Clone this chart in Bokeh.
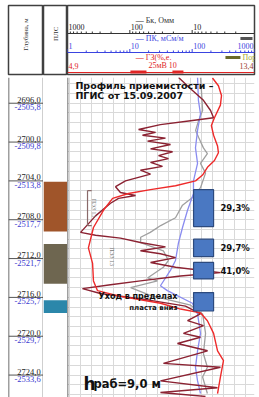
import numpy as np
from bokeh.plotting import figure
from bokeh.layouts import row, column
from bokeh.models import Range1d, LogScale, Span, SingleIntervalTicker, Grid
from bokeh.embed import file_html
from bokeh.resources import INLINE
from bokeh.core.properties import value

# ---------------- data ----------------
depth_ticks = [2696, 2700, 2704, 2708, 2712, 2716, 2720, 2724]
depth_labels = ["2696,0", "2700,0", "2704,0", "2708,0", "2712,0", "2716,0", "2720,0", "2724,0"]
abs_labels = ["-2505,8", "-2509,8", "-2513,8", "-2517,7", "-2521,7", "-2525,7", "-2529,7", "-2533,6"]

litho_top = [2704.1, 2710.5, 2716.3]
litho_bot = [2709.2, 2714.6, 2717.6]
litho_colors = ["#A0552A", "#6E6650", "#2B87AA"]

prof_top = [2704.9, 2710.0, 2712.4, 2715.5]
prof_bot = [2708.7, 2711.8, 2714.1, 2717.4]
prof_labels = ["29,3%", "29,7%", "41,0%", ""]

bk_scale = [1000, 100, 10, 1]
bk_labels = ["1000", "100", "10", "1"]
pk_scale = [1, 10, 100, 1000]
pk_labels = ["1", "10", "100", "1000"]
gz_scale = [4.9, 13.4]
gz_labels = ["4,9", "13,4"]

# ГЗ (red), linear 4.9 .. 13.4
red_depth = [2693.4, 2694.2, 2695.2, 2696.2, 2697.5, 2698.3, 2699.3, 2700.4, 2701.1, 2701.9,
             2702.6, 2703.4, 2704.0, 2704.5, 2704.9, 2705.3, 2705.8, 2707.0, 2708.8, 2710.9,
             2712.5, 2714.3, 2715.3, 2715.9, 2716.6, 2717.2, 2717.6, 2718.4, 2719.7, 2721.5,
             2722.5, 2724.2, 2725.9]
red_gz = [11.49, 11.76, 11.90, 11.85, 11.58, 11.44, 11.54, 11.72, 11.76, 11.58,
          11.26, 11.04, 10.72, 9.81, 8.67, 7.67, 6.95, 6.54, 6.08, 5.85,
          6.04, 6.08, 6.26, 7.31, 9.13, 10.04, 10.95, 11.26, 11.54, 11.72,
          11.99, 11.85, 11.72]

# ПС (maroon), mV
ps_depth = [2693.35, 2694.5, 2695.7, 2696.75, 2697.5, 2697.8, 2698.2, 2698.7, 2699.0, 2699.3,
            2699.6, 2699.9, 2700.25, 2700.7, 2701.0, 2701.4, 2701.7, 2702.1, 2702.5, 2702.9,
            2703.3, 2704.0, 2704.6, 2705.2, 2705.5, 2705.8, 2706.3, 2707.6, 2709.3, 2709.6,
            2709.9, 2710.35, 2710.8, 2711.2, 2711.5, 2711.9, 2712.4, 2712.9, 2713.45, 2713.8,
            2714.3, 2714.7, 2715.1, 2715.6, 2716.3, 2716.9, 2717.7, 2718.4, 2718.9, 2719.7,
            2720.1, 2720.75, 2721.5, 2722.8, 2723.2, 2724.6, 2725.3, 2725.8, 2726.2]
ps_mv = [-40.6, -34.2, -27.3, -23.5, -21.9, -34.2, -50.3, -62.0, -52.9, -59.9,
         -47.6, -57.2, -44.9, -55.6, -43.8, -51.3, -46.0, -55.6, -49.2, -61.0,
         -55.6, -69.0, -74.3, -71.7, -63.6, -72.7, -77.0, -85.0, -93.0, -85.0,
         -71.7, -61.0, -47.6, -61.0, -50.3, -42.2, -55.6, -42.2, -18.2, -39.6,
         -61.0, -77.0, -92.0, -82.4, -55.6, -36.9, -28.9, -35.8, -27.3, -38.0,
         -28.9, -41.2, -25.1, -48.7, -18.2, -50.3, -19.8, -50.3, -26.2]

# Бк (grey), Ohm*m, log
bk_depth = [2693.35, 2694.7, 2696.75, 2697.8, 2698.8, 2699.5, 2700.6, 2701.2, 2702.2, 2703.2,
            2704.7, 2705.7, 2706.5, 2707.8, 2708.6, 2709.3, 2709.8, 2710.35, 2711.2, 2712.2,
            2712.9, 2714.0, 2714.3, 2715.0, 2715.8, 2716.8, 2717.7, 2719.7, 2721.8, 2723.2,
            2724.2, 2725.9]
bk_ohm = [7.35, 7.1, 6.8, 7.9, 8.8, 7.9, 6.6, 5.7, 7.35, 6.1,
          7.35, 9.9, 14.3, 18.5, 32.0, 47.0, 67.0, 67.0, 29.0, 24.0,
          29.0, 52.0, 36.0, 97.0, 47.0, 10.6, 6.8, 6.1, 6.6, 5.7,
          6.8, 5.7]

# ПК (blue), mS/m, log
pk_depth = [2693.35, 2695.7, 2697.1, 2698.8, 2700.6, 2702.2, 2704.0, 2705.3, 2707.05, 2708.8,
            2710.45, 2712.2, 2713.2, 2714.8, 2715.3, 2716.6, 2717.7, 2719.7, 2721.5, 2723.2,
            2724.6, 2725.9]
pk_msm = [122, 126, 136, 122, 113, 122, 105, 105, 84, 70,
          60, 54, 45, 31, 40, 101, 122, 136, 122, 113,
          122, 136]

# ---------------- layout ----------------
TOP, BOT = 2693.35, 2726.31
serif = value("Liberation Serif")
sans = value("DejaVu Sans")
LINE = "#404040"


def make(w, h, xr, yr, **kw):
    p = figure(width=w, height=h, x_range=xr, y_range=yr, output_backend="svg",
               toolbar_location=None, x_axis_location=None, y_axis_location=None,
               min_border=0, **kw)
    p.xgrid.visible = False
    p.ygrid.visible = False
    p.outline_line_color = None
    p.border_fill_color = "white"
    p.background_fill_color = "white"
    return p


def boxed(p):
    p.outline_line_color = LINE
    p.outline_line_width = 1.5
    return p


HF = "8px"
# ---- header ----
h1 = boxed(make(43, 77, Range1d(0, 1), Range1d(1, 0), min_border_left=8, min_border_top=5, min_border_bottom=3))
h1.text(x=[0.5], y=[0.42], text=["Глубина, м"], angle=np.pi / 2, text_align="center",
        text_baseline="middle", text_font=serif, text_font_size="7px", text_color="#333333")

h2 = boxed(make(24, 77, Range1d(0, 1), Range1d(1, 0), min_border_top=5, min_border_bottom=3))
h2.text(x=[0.5], y=[0.41], text=["ПЛС"], angle=np.pi / 2, text_align="center",
        text_baseline="middle", text_font=serif, text_font_size="7px", text_color="#333333")

h3 = boxed(make(192, 77, Range1d(gz_scale[0], gz_scale[1]), Range1d(69, 0),
                min_border_right=5, min_border_top=5, min_border_bottom=3))
h3.extra_x_ranges = {"bk": Range1d(bk_scale[0], bk_scale[-1]), "pk": Range1d(pk_scale[0], pk_scale[-1])}
h3.extra_x_scales = {"bk": LogScale(), "pk": LogScale()}

minor = [m * 10 ** k for k in range(3) for m in range(2, 10)]
decades = [1, 10, 100, 1000]
# row 1 : Бк
h3.segment(x0=[bk_scale[0]], x1=[bk_scale[-1]], y0=[28], y1=[28], x_range_name="bk", line_color="#333333")
h3.segment(x0=minor, x1=minor, y0=28, y1=26, x_range_name="bk", line_color="#333333")
h3.segment(x0=decades, x1=decades, y0=28, y1=24.5, x_range_name="bk", line_color="#333333")
h3.text(x=bk_scale, y=21.5, text=bk_labels, x_range_name="bk", x_offset=1, text_align="left",
        text_baseline="middle", text_font=serif, text_font_size=HF, text_color="#222222")
h3.text(x=[8.0], y=[15], text=["— Бк, Омм"], text_align="left", text_baseline="middle",
        text_font=serif, text_font_size=HF, text_color="#333333")
# row 2 : ПК
BLUE_H = "#3a44e0"
h3.segment(x0=[pk_scale[0]], x1=[pk_scale[-1]], y0=[47], y1=[47], x_range_name="pk", line_color=BLUE_H)
h3.segment(x0=minor, x1=minor, y0=47, y1=45, x_range_name="pk", line_color=BLUE_H)
h3.segment(x0=decades, x1=decades, y0=47, y1=43.5, x_range_name="pk", line_color=BLUE_H)
h3.text(x=pk_scale[:3], y=40.5, text=pk_labels[:3], x_range_name="pk", x_offset=1, text_align="left",
        text_baseline="middle", text_font=serif, text_font_size=HF, text_color=BLUE_H)
h3.text(x=pk_scale[3:], y=40.5, text=pk_labels[3:], x_range_name="pk", x_offset=-1, text_align="right",
        text_baseline="middle", text_font=serif, text_font_size=HF, text_color=BLUE_H)
h3.text(x=[8.0], y=[33], text=["— ПК, мСм/м"], text_align="left", text_baseline="middle",
        text_font=serif, text_font_size=HF, text_color=BLUE_H)
h3.segment(x0=[12.76], x1=[13.31], y0=[33], y1=[33], line_color="#555555", line_width=3)
# row 3 : ГЗ
RED_H = "#e02424"
h3.segment(x0=[gz_scale[0]], x1=[gz_scale[1]], y0=[67], y1=[67], line_color=RED_H)
h3.segment(x0=[7.76, 9.67], x1=[8.49, 10.17], y0=66.5, y1=66.5, line_color=RED_H, line_width=3)
h3.text(x=[gz_scale[0]], y=60, text=[gz_labels[0]], x_offset=1, text_align="left", text_baseline="middle",
        text_font=serif, text_font_size=HF, text_color=RED_H)
h3.text(x=[gz_scale[1]], y=60, text=[gz_labels[1]], x_offset=-1, text_align="right", text_baseline="middle",
        text_font=serif, text_font_size=HF, text_color="#9a3a2a")
h3.text(x=[8.0], y=[52], text=["— ГЗ(%,е."], text_align="left", text_baseline="middle",
        text_font=serif, text_font_size=HF, text_color=RED_H)
h3.text(x=[8.58], y=[60], text=["25мВ 10"], text_align="left", text_baseline="middle",
        text_font=serif, text_font_size=HF, text_color=RED_H)
h3.segment(x0=[12.08], x1=[12.76], y0=[52], y1=[52], line_color="#6b6b2a", line_width=3)
h3.text(x=[12.85], y=[52], text=["Пор"], text_align="left", text_baseline="middle",
        text_font=serif, text_font_size=HF, text_color="#a8a832")

# ---- body ----
b1 = make(43, 320, Range1d(0, 1), Range1d(BOT, TOP), min_border_left=8)
b1.add_layout(Span(location=0, dimension="height", line_color=LINE, line_width=1.5))
b1.add_layout(Span(location=1, dimension="height", line_color=LINE, line_width=1.5))
b1.segment(x0=0, x1=1, y0=depth_ticks, y1=depth_ticks, line_color="#555555", line_width=1)
b1.text(x=0.92, y=depth_ticks, text=depth_labels, y_offset=-0.5, text_align="right", text_baseline="bottom",
        text_font=serif, text_font_size="8.5px", text_color="#222222")
b1.text(x=0.92, y=depth_ticks, text=abs_labels, y_offset=1, text_align="right", text_baseline="top",
        text_font=serif, text_font_size="8.5px", text_color="#3a3ad0")

b2 = make(24, 320, Range1d(0, 1), Range1d(BOT, TOP))
b2.quad(left=0, right=1, top=litho_top, bottom=litho_bot, fill_color=litho_colors, line_color=None)

b3 = make(192, 320, Range1d(gz_scale[0], gz_scale[1]), Range1d(BOT, TOP), min_border_right=5)
b3.extra_x_ranges = {"bk": Range1d(bk_scale[0], bk_scale[-1]), "pk": Range1d(pk_scale[0], pk_scale[-1]),
                     "ps": Range1d(-100, 0)}
b3.extra_x_scales = {"bk": LogScale(), "pk": LogScale()}
GRID = "#d9d9d9"
b3.add_layout(Grid(dimension=0, ticker=SingleIntervalTicker(interval=0.5), grid_line_color=GRID))
b3.add_layout(Grid(dimension=1, ticker=SingleIntervalTicker(interval=1), grid_line_color=GRID))
b3.add_layout(Span(location=gz_scale[0], dimension="height", line_color=LINE, line_width=1.5))

b3.line(x=bk_ohm, y=bk_depth, x_range_name="bk", line_color="#a0a0a0", line_width=1.3)
b3.line(x=pk_msm, y=pk_depth, x_range_name="pk", line_color="#8a8cf0", line_width=1.3)
b3.line(x=ps_mv, y=ps_depth, x_range_name="ps", line_color="#8b2232", line_width=1.4)
b3.line(x=red_gz, y=red_depth, line_color="#ee2a2a", line_width=1.4)

# bracket + small vertical notes
b3.segment(x0=[5.81, 5.81, 5.81], x1=[5.81, 6.0, 6.0], y0=[2705.0, 2705.0, 2708.6], y1=[2708.6, 2705.0, 2708.6],
           line_color="#8a6a6a", line_width=1.2)
b3.text(x=[6.1, 6.9], y=[2706.8, 2711.8], text=["ПЭЗ 13", "ПЭЗ 13"], angle=-np.pi / 2, text_align="center",
        text_baseline="middle", text_font=serif, text_font_size="6px", text_color="#777777")

# profile bars
b3.quad(left=10.63, right=11.54, top=prof_top, bottom=prof_bot, fill_color="#4a78c2",
        line_color="#2c4a7e", line_width=1.2)
mid = [(a + b) / 2 for a, b in zip(prof_top, prof_bot)]
b3.text(x=11.85, y=mid, text=prof_labels, text_align="left", text_baseline="middle",
        text_font=sans, text_font_size="8.5px", text_font_style="bold", text_color="#111111")

b3.text(x=[5.26, 5.26], y=[2694.18, 2695.21], text=["Профиль приемистости –", "ПГИС от 15.09.2007"],
        text_align="left", text_baseline="middle", text_font=sans, text_font_size="9.5px",
        text_font_style="bold", text_color="#111111")
b3.text(x=[9.9], y=[2715.9], text=["Уход в пределах"], text_align="right", text_baseline="middle",
        text_font=sans, text_font_size="8px", text_font_style="bold", text_color="#111111")
b3.text(x=[9.9], y=[2717.05], text=["пласта вниз"], text_align="right", text_baseline="middle",
        text_font=sans, text_font_size="7px", text_font_style="bold", text_color="#111111")
b3.text(x=[5.63], y=[2724.9], text=["h"], text_align="left", text_baseline="alphabetic",
        text_font=sans, text_font_size="17px", text_font_style="bold", text_color="#111111")
b3.text(x=[6.08], y=[2724.9], text=["раб=9,0 м"], text_align="left", text_baseline="alphabetic",
        text_font=sans, text_font_size="11.5px", text_font_style="bold", text_color="#111111")

layout = column(row(h1, h2, h3), row(b1, b2, b3))
open("out.html", "w").write(file_html(layout, INLINE))
